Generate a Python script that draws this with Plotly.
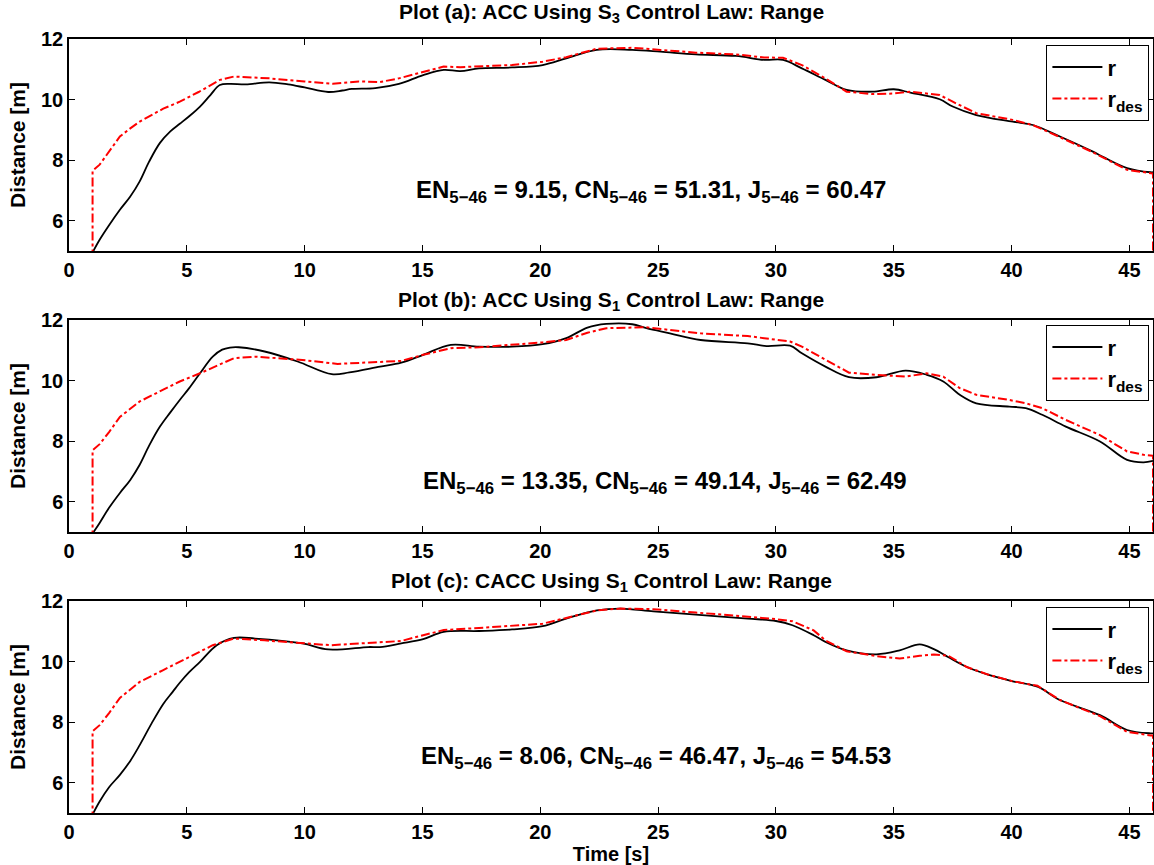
import plotly.graph_objects as go

# ---- Panel (a): ACC, S3 control law ----
t_a_r = [1.0, 1.3, 1.7, 2.16, 2.6, 3.0, 3.4, 3.86, 4.3, 4.7, 5.1, 5.56, 6.0, 6.4, 6.83, 7.5, 8.5, 9.3,
         10.0, 11.0, 11.6, 12.0, 13.0, 14.0, 15.03, 15.9, 16.6, 17.4, 18.8, 20.1, 21.1, 22.4, 23.9,
         25.1, 26.6, 28.3, 29.5, 30.3, 31.1, 32.1, 33.0, 34.1, 35.0, 35.7, 36.95, 37.5, 38.5, 40.05,
         40.9, 42.05, 43.45, 43.9, 44.9, 45.9, 46.0]
r_a = [4.95, 5.37, 5.85, 6.36, 6.8, 7.3, 7.95, 8.57, 8.95, 9.2, 9.45, 9.77, 10.15, 10.48, 10.52, 10.5,
       10.57, 10.5, 10.4, 10.25, 10.3, 10.35, 10.38, 10.52, 10.81, 10.98, 10.94, 11.03, 11.06, 11.14,
       11.36, 11.64, 11.64, 11.58, 11.49, 11.44, 11.31, 11.31, 11.03, 10.65, 10.32, 10.26, 10.34,
       10.23, 10.01, 9.77, 9.49, 9.27, 9.16, 8.78, 8.28, 8.1, 7.74, 7.6, 7.6]
t_a_des = [1.0, 1.0, 1.3, 1.7, 2.16, 2.6, 3.0, 4.0, 4.7, 5.5, 6.4, 7.0, 8.5, 10.0, 11.2, 12.3, 13.2,
           14.0, 15.03, 15.9, 16.6, 17.4, 18.8, 20.1, 21.1, 22.4, 23.9, 25.1, 26.6, 28.3, 29.5, 30.3,
           31.1, 32.1, 33.0, 34.1, 35.0, 35.7, 36.95, 37.5, 38.5, 40.05, 40.9, 42.05, 43.45, 44.9,
           45.9, 46.0, 46.0]
r_des_a = [0.0, 7.65, 7.85, 8.28, 8.78, 9.05, 9.27, 9.7, 9.93, 10.25, 10.65, 10.76, 10.7, 10.6, 10.52,
           10.6, 10.58, 10.7, 10.92, 11.09, 11.07, 11.09, 11.14, 11.25, 11.4, 11.68, 11.71, 11.64,
           11.55, 11.49, 11.39, 11.38, 11.14, 10.7, 10.26, 10.18, 10.2, 10.26, 10.15, 9.93, 9.55,
           9.33, 9.16, 8.76, 8.26, 7.68, 7.56, 7.56, 0.0]

# ---- Panel (b): ACC, S1 control law ----
t_b_r = [1.0, 1.3, 1.7, 2.16, 2.6, 3.0, 3.4, 3.86, 4.3, 4.7, 5.1, 5.56, 6.1, 6.5, 6.83, 7.2, 8.3, 9.7,
         11.15, 11.9, 13.2, 14.1, 15.03, 16.2, 17.4, 18.8, 20.1, 21.1, 22.0, 22.8, 23.9, 24.5, 25.5,
         26.8, 28.8, 29.6, 30.6, 31.1, 32.1, 33.1, 34.27, 35.5, 36.4, 37.1, 37.8, 38.5, 39.9, 40.6,
         41.3, 42.3, 43.75, 44.9, 45.6, 46.0]
r_b = [4.95, 5.3, 5.8, 6.29, 6.72, 7.22, 7.85, 8.48, 8.95, 9.36, 9.75, 10.24, 10.79, 11.02, 11.09,
       11.1, 10.96, 10.63, 10.21, 10.27, 10.46, 10.59, 10.85, 11.18, 11.12, 11.12, 11.2, 11.4, 11.75,
       11.87, 11.86, 11.73, 11.56, 11.34, 11.23, 11.14, 11.15, 10.9, 10.46, 10.11, 10.11, 10.33,
       10.19, 9.97, 9.53, 9.25, 9.14, 9.09, 8.87, 8.48, 7.99, 7.38, 7.3, 7.35]
t_b_des = [1.0, 1.0, 1.3, 1.7, 2.16, 2.6, 3.0, 4.0, 4.7, 5.56, 7.0, 7.9, 9.9, 11.4, 13.2, 14.1, 15.03,
           16.2, 17.4, 18.8, 20.1, 21.1, 22.0, 22.8, 23.9, 24.5, 25.5, 26.8, 28.8, 29.6, 30.6, 31.1,
           32.1, 33.1, 34.27, 35.5, 36.4, 37.1, 37.8, 38.5, 39.9, 40.6, 41.3, 42.3, 43.75, 44.9, 45.6,
           46.0, 46.0]
r_des_b = [0.0, 7.7, 7.9, 8.3, 8.8, 9.07, 9.31, 9.7, 9.97, 10.24, 10.74, 10.79, 10.68, 10.55, 10.63,
           10.65, 10.85, 11.07, 11.1, 11.18, 11.26, 11.34, 11.58, 11.73, 11.76, 11.76, 11.67, 11.56,
           11.47, 11.4, 11.29, 11.12, 10.68, 10.26, 10.19, 10.13, 10.24, 10.13, 9.75, 9.53, 9.36,
           9.25, 9.09, 8.7, 8.2, 7.66, 7.55, 7.52, 0.0]

# ---- Panel (c): CACC, S1 control law ----
t_c_r = [1.0, 1.3, 1.7, 2.16, 2.6, 3.0, 3.5, 4.0, 4.4, 4.7, 5.1, 5.56, 6.27, 7.0, 7.9, 9.9, 11.0,
         12.7, 13.2, 14.1, 15.03, 15.9, 17.4, 18.8, 20.1, 21.1, 22.4, 23.4, 24.8, 26.6, 28.8, 30.0,
         30.7, 31.6, 32.1, 33.0, 34.27, 35.25, 36.1, 36.7, 37.3, 38.1, 39.0, 40.05, 41.1, 42.05,
         43.75, 44.9, 45.9, 46.0]
r_c = [4.95, 5.38, 5.85, 6.26, 6.72, 7.24, 7.95, 8.6, 9.0, 9.3, 9.65, 9.99, 10.54, 10.78, 10.76,
       10.6, 10.4, 10.48, 10.48, 10.6, 10.74, 10.98, 11.01, 11.06, 11.17, 11.42, 11.69, 11.75, 11.66,
       11.55, 11.42, 11.34, 11.2, 10.87, 10.65, 10.37, 10.24, 10.37, 10.57, 10.41, 10.15, 9.82,
       9.57, 9.35, 9.17, 8.73, 8.23, 7.74, 7.63, 7.63]
t_c_des = [1.0, 1.0, 1.3, 1.7, 2.16, 2.6, 3.0, 4.0, 4.7, 6.1, 7.0, 8.3, 11.1, 13.2, 14.1, 15.03, 15.9,
           17.4, 18.8, 20.1, 21.1, 22.4, 23.4, 24.8, 26.6, 28.8, 30.0, 30.7, 31.6, 32.1, 33.0, 34.27,
           35.25, 36.1, 36.7, 37.3, 38.1, 39.0, 40.05, 41.1, 42.05, 43.75, 44.9, 45.9, 46.0, 46.0]
r_des_c = [0.0, 7.7, 7.9, 8.3, 8.8, 9.07, 9.33, 9.72, 9.99, 10.54, 10.76, 10.7, 10.54, 10.65, 10.68,
           10.87, 11.04, 11.11, 11.18, 11.25, 11.44, 11.69, 11.75, 11.73, 11.62, 11.48, 11.4, 11.33,
           11.03, 10.7, 10.34, 10.18, 10.1, 10.19, 10.23, 10.2, 9.82, 9.57, 9.35, 9.2, 8.73, 8.2,
           7.68, 7.56, 7.56, 0.0]

titles = [
    "Plot (a): ACC Using S<sub>3</sub> Control Law: Range",
    "Plot (b): ACC Using S<sub>1</sub> Control Law: Range",
    "Plot (c): CACC Using S<sub>1</sub> Control Law: Range",
]
# performance indices per panel: EN, CN, J
EN = [9.15, 13.35, 8.06]
CN = [51.31, 49.14, 46.47]
J = [60.47, 62.49, 54.53]
# where each index label sits (data coordinates)
label_x = [24.7, 25.3, 24.9]
label_y = [6.98, 6.65, 6.84]

x_ticks = [0, 5, 10, 15, 20, 25, 30, 35, 40, 45]
y_ticks = [6, 8, 10, 12]

W, H = 1154, 865
# pixel rows of each panel's plot box (top, bottom)
panel_px = [(39, 251), (320, 532), (601, 813)]
legend_top_px = [45, 325, 607]
title_px = [13, 301, 582]

FONT = "Liberation Sans, Arial, Helvetica, sans-serif"

panels = [
    (t_a_r, r_a, t_a_des, r_des_a),
    (t_b_r, r_b, t_b_des, r_des_b),
    (t_c_r, r_c, t_c_des, r_des_c),
]

fig = go.Figure()
annotations = []
for i, (tr, rr, td, rd) in enumerate(panels):
    k = "" if i == 0 else str(i + 1)
    leg = "legend" + k
    fig.add_trace(go.Scatter(
        x=tr, y=rr, mode="lines", name="r",
        line=dict(color="black", width=1.8, shape="spline", smoothing=1.0),
        xaxis="x" + k, yaxis="y" + k, legend=leg))
    fig.add_trace(go.Scatter(
        x=td, y=rd, mode="lines", name="r<sub>des</sub>",
        line=dict(color="#ff0000", width=2, dash="dashdot"),
        xaxis="x" + k, yaxis="y" + k, legend=leg))

    top, bot = panel_px[i]
    dom = [(H - bot) / H, (H - top) / H]
    axis_common = dict(
        showline=True, linecolor="black", linewidth=1.5, mirror="ticks",
        ticks="inside", ticklen=6, tickwidth=1.2, tickcolor="black",
        showgrid=False, zeroline=False, automargin=False,
        tickfont=dict(family=FONT, size=20, color="black", weight="bold"),
    )
    fig.update_layout(**{
        "xaxis" + k: dict(axis_common, range=[0, 46], tickvals=x_ticks,
                          anchor="y" + k, domain=[0, 1]),
        "yaxis" + k: dict(axis_common, range=[5, 12], tickvals=y_ticks,
                          anchor="x" + k, domain=dom,
                          title=dict(text="<b>Distance [m]</b>", standoff=10,
                                     font=dict(family=FONT, size=21, color="black"))),
        leg: dict(x=0.9965, xanchor="right", y=(H - legend_top_px[i]) / H, yanchor="top",
                  bgcolor="white", bordercolor="black", borderwidth=1.2,
                  font=dict(family=FONT, size=22, color="black", weight="bold"),
                  tracegroupgap=0, itemwidth=50),
    })

    annotations.append(dict(
        text="<b>" + titles[i] + "</b>", xref="paper", yref="paper",
        x=0.5, y=(H - title_px[i]) / H, xanchor="center", yanchor="middle",
        showarrow=False, font=dict(family=FONT, size=21, color="black")))
    annotations.append(dict(
        text=("<b>EN<sub>5\u221246</sub> = %.2f, CN<sub>5\u221246</sub> = %.2f, "
              "J<sub>5\u221246</sub> = %.2f</b>") % (EN[i], CN[i], J[i]),
        xref="x" + k, yref="y" + k, x=label_x[i], y=label_y[i],
        xanchor="center", yanchor="middle", showarrow=False,
        font=dict(family=FONT, size=24, color="black")))

fig.update_layout(xaxis3=dict(title=dict(text="<b>Time [s]</b>", standoff=2,
                                         font=dict(family=FONT, size=20, color="black"))))

fig.update_layout(
    width=W, height=H,
    margin=dict(l=69, r=1, t=0, b=0),
    paper_bgcolor="white", plot_bgcolor="white",
    annotations=annotations,
    showlegend=True,
)

fig.write_html("out.html")
